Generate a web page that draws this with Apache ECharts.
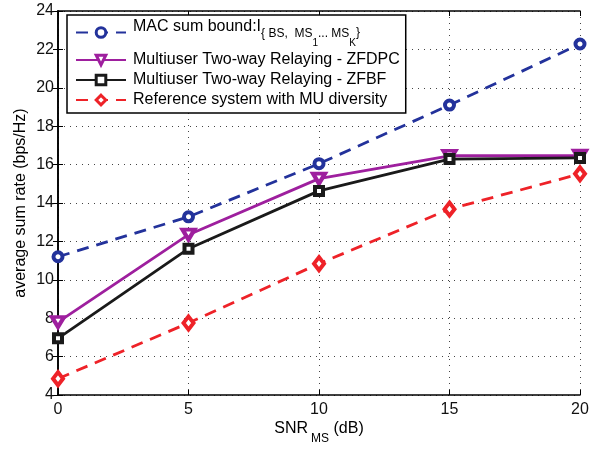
<!DOCTYPE html>
<html>
<head>
<meta charset="utf-8">
<script src="https://cdn.jsdelivr.net/npm/echarts@6/dist/echarts.min.js"></script>
<style>
  html, body { margin: 0; padding: 0; background: #fff; }
  #chart { width: 602px; height: 450px; }
</style>
</head>
<body>
<div id="chart"></div>
<script>
// SNR of the mobile stations (dB)
const snr = [0, 5, 10, 15, 20]
// average sum rate (bps/Hz)
const macBound = [11.2, 13.28, 16.05, 19.1, 22.28]
const zfdpc = [7.8, 12.35, 15.27, 16.46, 16.47]
const zfbf = [6.95, 11.62, 14.63, 16.29, 16.35]
const refMu = [4.85, 7.75, 10.84, 13.68, 15.52]

const seriesNames = [
  'MAC sum bound',
  'Multiuser Two-way Relaying - ZFDPC',
  'Multiuser Two-way Relaying - ZFBF',
  'Reference system with MU diversity'
]

const font = "'Liberation Sans', Arial, Helvetica, sans-serif"

function pairs (vals) {
  return snr.map((x, i) => [x, vals[i]])
}

const myChart = echarts.init(document.getElementById('chart'))

const frameAxis = {
  type: 'value',
  axisLine: { show: true, lineStyle: { color: '#000', width: 1.6 } },
  axisTick: { show: true, inside: true, length: 5, lineStyle: { color: '#000', width: 1 } },
  axisLabel: { show: false },
  splitLine: { show: false }
}

let opt = {
  animation: false,
  backgroundColor: '#fff',
  grid: {
    left: 58,
    right: 22,
    top: 11,
    bottom: 50
  },
  legend: {
    orient: 'vertical',
    left: 67,
    top: 15,
    padding: [4, 6, 5, 8],
    itemWidth: 50,
    itemHeight: 12,
    itemGap: 4,
    backgroundColor: '#fff',
    borderColor: '#000',
    borderWidth: 1.5,
    borderRadius: 0,
    itemStyle: { borderWidth: 3 },
    data: seriesNames,
    formatter: function (name) {
      if (name === seriesNames[0]) {
        return '{m|MAC sum bound:I}{s|{ BS,  MS}{t|1}{s|... MS}{t|K}}'
      }
      return '{n|' + name + '}'
    },
    textStyle: {
      fontFamily: font,
      fontSize: 12,
      color: '#000',
      padding: [0, 0, 0, 2],
      rich: {
        m: { fontFamily: font, fontSize: 16, color: '#000', verticalAlign: 'top', padding: [2, 0, 0, 0] },
        s: { fontFamily: font, fontSize: 12, color: '#000', verticalAlign: 'top', padding: [11, 0, 0, 0] },
        t: { fontFamily: font, fontSize: 10, color: '#000', verticalAlign: 'top', padding: [21, 0, 0, 0] },
        n: { fontFamily: font, fontSize: 16, color: '#000' }
      }
    }
  },
  xAxis: [
    {
      type: 'value',
      min: 0,
      max: 20,
      interval: 5,
      name: '{a|SNR}{b|MS}{a| (dB)}',
      nameLocation: 'middle',
      nameGap: 26,
      nameMoveOverlap: false,
      nameTextStyle: {
        verticalAlign: 'top',
        rich: {
          a: { fontFamily: font, fontSize: 16, color: '#000', verticalAlign: 'top' },
          b: { fontFamily: font, fontSize: 12, color: '#000', verticalAlign: 'top', padding: [12, 0, 0, 3] }
        }
      },
      axisLine: { show: true, lineStyle: { color: '#000', width: 1.6 } },
      axisTick: { show: true, inside: true, length: 5, lineStyle: { color: '#000', width: 1 } },
      axisLabel: { fontFamily: font, fontSize: 16, color: '#111', margin: 7 },
      splitLine: { show: true, lineStyle: { color: '#444', width: 1, type: [1, 5] } }
    },
    Object.assign({ position: 'top', min: 0, max: 20, interval: 5 }, frameAxis)
  ],
  yAxis: [
    {
      type: 'value',
      min: 4,
      max: 24,
      interval: 2,
      name: 'average sum rate (bps/Hz)',
      nameLocation: 'middle',
      nameGap: 29,
      nameMoveOverlap: false,
      nameTextStyle: { fontFamily: font, fontSize: 16, color: '#000' },
      axisLine: { show: true, lineStyle: { color: '#000', width: 1.6 } },
      axisTick: { show: true, inside: true, length: 5, lineStyle: { color: '#000', width: 1 } },
      axisLabel: { fontFamily: font, fontSize: 16, color: '#111', margin: 4 },
      splitLine: { show: true, lineStyle: { color: '#444', width: 1, type: [1, 5] } }
    },
    Object.assign({ position: 'right', min: 4, max: 24, interval: 2 }, frameAxis)
  ],
  series: [
    {
      name: seriesNames[0],
      type: 'line',
      data: pairs(macBound),
      symbol: 'circle',
      symbolSize: 9,
      lineStyle: { color: '#23329b', width: 2.8, type: [12, 8] },
      itemStyle: { color: '#fff', borderColor: '#23329b', borderWidth: 4 }
    },
    {
      name: seriesNames[1],
      type: 'line',
      data: pairs(zfdpc),
      symbol: 'triangle',
      symbolRotate: 180,
      symbolSize: [12, 10],
      lineStyle: { color: '#9e1f9e', width: 2.8 },
      itemStyle: { color: '#fff', borderColor: '#9e1f9e', borderWidth: 4 }
    },
    {
      name: seriesNames[2],
      type: 'line',
      data: pairs(zfbf),
      symbol: 'rect',
      symbolSize: 8,
      lineStyle: { color: '#1a1a1a', width: 2.8 },
      itemStyle: { color: '#fff', borderColor: '#1a1a1a', borderWidth: 4 }
    },
    {
      name: seriesNames[3],
      type: 'line',
      data: pairs(refMu),
      symbol: 'diamond',
      symbolSize: [10, 13],
      lineStyle: { color: '#ee2228', width: 2.8, type: [12, 8] },
      itemStyle: { color: '#fff', borderColor: '#ee2228', borderWidth: 4 }
    }
  ]
}

myChart.setOption(opt, true)
window.addEventListener('resize', function () {
  myChart.resize()
})
</script>
</body>
</html>
